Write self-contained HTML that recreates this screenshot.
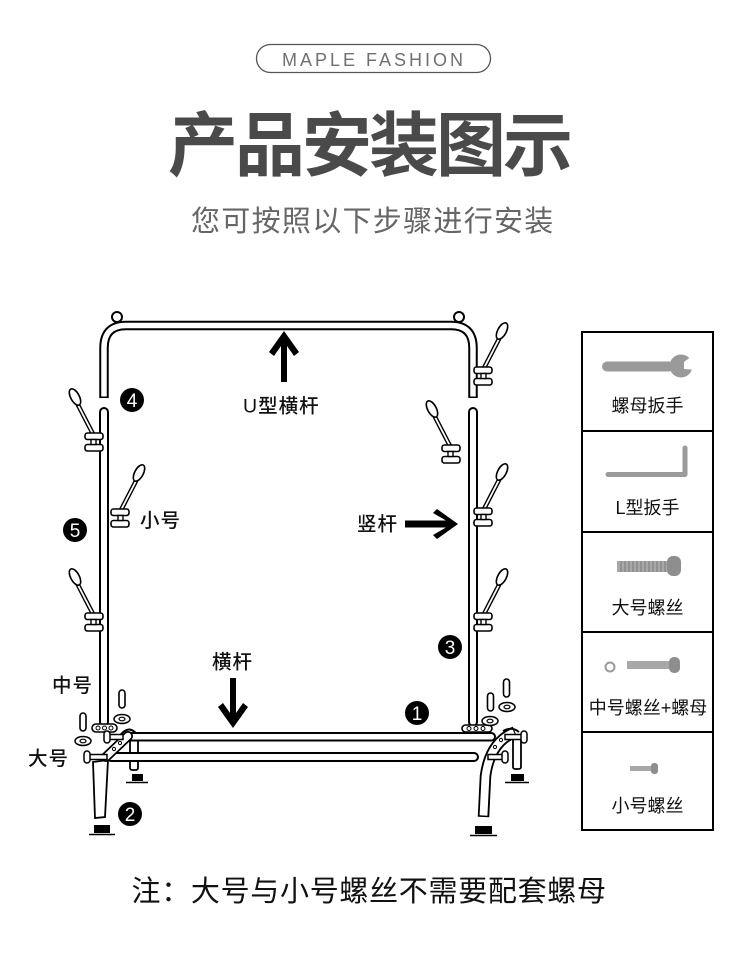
<!DOCTYPE html>
<html><head><meta charset="utf-8"><style>
html,body{margin:0;padding:0;background:#fff;}
body{width:750px;height:959px;overflow:hidden;}
svg{display:block;}
text{font-family:"Liberation Sans","Noto Sans CJK SC",sans-serif;}
</style></head><body>
<svg width="750" height="959" viewBox="0 0 750 959" xmlns="http://www.w3.org/2000/svg">
<rect width="750" height="959" fill="#fff"/>
<defs>
<g id="hk" fill="#fff" stroke="#000">
 <line x1="-1" y1="-8" x2="-16" y2="-37" stroke-width="4.6" stroke-linecap="round"/>
 <line x1="-1" y1="-8" x2="-16" y2="-37" stroke="#fff" stroke-width="1.8"/>
 <ellipse cx="-19" cy="-45" rx="4.3" ry="9" transform="rotate(-28 -19 -45)" stroke-width="1.6"/>
 <rect x="-9" y="-9" width="18" height="6.5" rx="2.5" stroke-width="1.6"/>
 <rect x="-9" y="2.5" width="18" height="6.5" rx="2.5" stroke-width="1.6"/>
 <rect x="-3" y="-2.5" width="5" height="5" stroke-width="1.4"/>
</g>
<g id="pin" fill="#fff" stroke="#000">
 <rect x="-3" y="0" width="6" height="18" rx="3" stroke-width="1.6"/>
</g>
<g id="nut" fill="#fff" stroke="#000">
 <ellipse cx="0" cy="0" rx="8" ry="4.5" stroke-width="1.5"/>
 <ellipse cx="0" cy="0" rx="3" ry="1.8" stroke-width="1.2"/>
</g>
</defs>

<!-- header -->
<rect x="256.5" y="44.5" width="234" height="28" rx="14" fill="none" stroke="#555" stroke-width="1.3"/>
<text x="282" y="66" font-size="18" letter-spacing="3" fill="#707070">MAPLE FASHION</text>
<text x="168 235 302 369 436 503" y="170" font-size="70" font-weight="bold" fill="#4a4a4a">产品安装图示</text>
<text x="191" y="231" font-size="29" letter-spacing="1.3" fill="#666">您可按照以下步骤进行安装</text>

<!-- knobs -->
<circle cx="117" cy="317" r="5" fill="#fff" stroke="#000" stroke-width="2"/>
<circle cx="459" cy="317" r="5" fill="#fff" stroke="#000" stroke-width="2"/>
<!-- U bar -->
<path d="M104 398 L104 348 Q104 325.5 126 325.5 L451 325.5 Q473 325.5 473 348 L473 398" fill="none" stroke="#000" stroke-width="9.5"/>
<path d="M104 396.5 L104 348 Q104 325.5 126 325.5 L451 325.5 Q473 325.5 473 348 L473 396.5" fill="none" stroke="#fff" stroke-width="5.5"/>
<!-- lower verticals -->
<rect x="100" y="408" width="8" height="318" rx="4" fill="#fff" stroke="#000" stroke-width="2"/>
<rect x="469" y="408" width="8" height="318" rx="4" fill="#fff" stroke="#000" stroke-width="2"/>

<!-- hooks -->
<use href="#hk" transform="translate(94,442)"/>
<use href="#hk" transform="translate(94,622)"/>
<use href="#hk" transform="translate(120,518) scale(-1,1)"/>
<use href="#hk" transform="translate(451,454)"/>
<use href="#hk" transform="translate(483,376) scale(-1,1)"/>
<use href="#hk" transform="translate(483,517) scale(-1,1)"/>
<use href="#hk" transform="translate(483,622) scale(-1,1)"/>

<!-- plates -->
<rect x="92" y="724" width="25" height="8" rx="4" fill="#fff" stroke="#000" stroke-width="1.6"/>
<circle cx="98" cy="728" r="2" fill="none" stroke="#000" stroke-width="1"/>
<circle cx="104.5" cy="728" r="2" fill="none" stroke="#000" stroke-width="1"/>
<circle cx="111" cy="728" r="2" fill="none" stroke="#000" stroke-width="1"/>
<rect x="462" y="725" width="30" height="7" rx="3.5" fill="#fff" stroke="#000" stroke-width="1.6"/>
<circle cx="469" cy="728.5" r="2" fill="none" stroke="#000" stroke-width="1"/>
<circle cx="476" cy="728.5" r="2" fill="none" stroke="#000" stroke-width="1"/>
<circle cx="483" cy="728.5" r="2" fill="none" stroke="#000" stroke-width="1"/>

<!-- loose bolts -->
<use href="#pin" transform="translate(83,713)"/>
<use href="#nut" transform="translate(83,741)"/>
<use href="#pin" transform="translate(122,690)"/>
<use href="#nut" transform="translate(122,719)"/>
<use href="#pin" transform="translate(490.5,693)"/>
<use href="#nut" transform="translate(490,721)"/>
<use href="#pin" transform="translate(506.5,679)"/>
<use href="#nut" transform="translate(507,707)"/>

<!-- base left -->
<rect x="130" y="738" width="8" height="32" rx="2" fill="#fff" stroke="#000" stroke-width="1.8"/>
<path d="M119 737 Q129 722 139 737" fill="none" stroke="#000" stroke-width="2"/>
<rect x="132" y="774" width="11" height="7" fill="#000"/>
<line x1="126" y1="782.5" x2="148" y2="782.5" stroke="#000" stroke-width="1.6"/>

<!-- base right rear -->
<rect x="513" y="738" width="8" height="31" rx="2" fill="#fff" stroke="#000" stroke-width="1.8"/>
<rect x="511" y="774" width="13" height="7" fill="#000"/>
<line x1="505" y1="782.5" x2="529" y2="782.5" stroke="#000" stroke-width="1.6"/>

<!-- bars -->
<rect x="125" y="733" width="370" height="7.5" rx="3.75" fill="#fff" stroke="#000" stroke-width="2"/>
<rect x="107" y="753" width="371" height="8" rx="4" fill="#fff" stroke="#000" stroke-width="2"/>

<!-- left front leg + bracket -->
<path d="M93 762 L95 818 L105 817 L108 760 Z" fill="#fff" stroke="#000" stroke-width="1.8"/>
<line x1="106" y1="757" x2="128" y2="736" stroke="#000" stroke-width="10" stroke-linecap="round"/>
<line x1="106" y1="757" x2="128" y2="736" stroke="#fff" stroke-width="6.5" stroke-linecap="round"/>
<circle cx="114" cy="749" r="1.6" fill="none" stroke="#000" stroke-width="1"/>
<circle cx="120" cy="743" r="1.6" fill="none" stroke="#000" stroke-width="1"/>
<rect x="108" y="734.5" width="15" height="5" fill="#fff" stroke="#000" stroke-width="1.5"/>
<rect x="104" y="731" width="6" height="12" rx="3" fill="#fff" stroke="#000" stroke-width="1.5"/>
<rect x="88" y="754.5" width="19" height="5" fill="#fff" stroke="#000" stroke-width="1.5"/>
<rect x="84" y="751" width="6" height="12" rx="3" fill="#fff" stroke="#000" stroke-width="1.5"/>
<rect x="94" y="825" width="16" height="8" fill="#000"/>
<line x1="89" y1="834.5" x2="115" y2="834.5" stroke="#000" stroke-width="1.6"/>

<!-- right front leg + bracket -->
<path d="M515 732 Q490 742 485.5 776 L483.5 817" fill="none" stroke="#000" stroke-width="11.5"/>
<path d="M514 732.5 Q490 742.5 485.5 776 L483.5 815.5" fill="none" stroke="#fff" stroke-width="7.8"/>
<path d="M503 731 Q512 726 519 732" fill="none" stroke="#000" stroke-width="2"/>
<circle cx="495" cy="747" r="1.6" fill="none" stroke="#000" stroke-width="1"/>
<circle cx="501" cy="740" r="1.6" fill="none" stroke="#000" stroke-width="1"/>
<rect x="505" y="734.5" width="17" height="5" fill="#fff" stroke="#000" stroke-width="1.5"/>
<rect x="521" y="731" width="6" height="12" rx="3" fill="#fff" stroke="#000" stroke-width="1.5"/>
<rect x="488" y="754.5" width="15" height="5" fill="#fff" stroke="#000" stroke-width="1.5"/>
<rect x="502" y="751" width="6" height="12" rx="3" fill="#fff" stroke="#000" stroke-width="1.5"/>
<rect x="475" y="826" width="17" height="8" fill="#000"/>
<line x1="470" y1="835.5" x2="497" y2="835.5" stroke="#000" stroke-width="1.6"/>

<!-- arrows -->
<polygon points="284,331 299,352 294,356 287,346 287,382 281,382 281,346 274,356 269,352" fill="#000"/>
<polygon points="233,728 248,707 243,703 236,713 236,678 230,678 230,713 223,703 218,707" fill="#000"/>
<polygon points="458,524 437,509 433,513 446,520.5 405,520.5 405,527.5 446,527.5 433,535 437,539" fill="#000"/>

<!-- diagram labels -->
<g font-size="19.5" font-weight="500" fill="#111">
<text x="243" y="412.5" letter-spacing="1">U型横杆</text>
<text x="357" y="530.5" letter-spacing="1">竖杆</text>
<text x="212" y="668.5" letter-spacing="1">横杆</text>
<text x="140" y="527" letter-spacing="1">小号</text>
<text x="52" y="692" letter-spacing="1">中号</text>
<text x="28" y="765" letter-spacing="1">大号</text>
</g>

<!-- circled numbers -->
<g fill="#000">
<circle cx="132" cy="400" r="12"/>
<circle cx="75" cy="530" r="12"/>
<circle cx="450" cy="647" r="12"/>
<circle cx="417" cy="713" r="12"/>
<circle cx="130" cy="814" r="12"/>
</g>
<g fill="#fff" font-size="19" text-anchor="middle">
<text x="132" y="407">4</text>
<text x="75" y="537">5</text>
<text x="450" y="654">3</text>
<text x="417" y="720">1</text>
<text x="130" y="821">2</text>
</g>

<!-- parts box -->
<rect x="582" y="332" width="131" height="498" fill="none" stroke="#000" stroke-width="2"/>
<line x1="582" y1="431" x2="713" y2="431" stroke="#000" stroke-width="2"/>
<line x1="582" y1="532" x2="713" y2="532" stroke="#000" stroke-width="2"/>
<line x1="582" y1="632" x2="713" y2="632" stroke="#000" stroke-width="2"/>
<line x1="582" y1="732" x2="713" y2="732" stroke="#000" stroke-width="2"/>

<!-- wrench -->
<rect x="602" y="361.5" width="72" height="10" rx="5" fill="#9a9a9a"/>
<circle cx="681" cy="366" r="11.5" fill="#9a9a9a"/>
<polygon points="684,362 696,353 698,370 684,369" fill="#fff"/>
<!-- L wrench -->
<path d="M608 474.5 L685 474.5 L685 448" fill="none" stroke="#9a9a9a" stroke-width="5" stroke-linejoin="round" stroke-linecap="round"/>
<!-- big screw -->
<rect x="617" y="561" width="52" height="11" fill="#a8a8a8"/>
<g stroke="#7a7a7a" stroke-width="1">
<line x1="621" y1="561" x2="621" y2="572"/><line x1="625" y1="561" x2="625" y2="572"/><line x1="629" y1="561" x2="629" y2="572"/><line x1="633" y1="561" x2="633" y2="572"/><line x1="637" y1="561" x2="637" y2="572"/><line x1="641" y1="561" x2="641" y2="572"/><line x1="645" y1="561" x2="645" y2="572"/><line x1="649" y1="561" x2="649" y2="572"/><line x1="653" y1="561" x2="653" y2="572"/><line x1="657" y1="561" x2="657" y2="572"/><line x1="661" y1="561" x2="661" y2="572"/><line x1="665" y1="561" x2="665" y2="572"/>
</g>
<rect x="667" y="556" width="14" height="20" rx="6" fill="#8e8e8e"/>
<!-- medium screw + nut -->
<circle cx="610" cy="667" r="4.5" fill="none" stroke="#9a9a9a" stroke-width="2"/>
<rect x="627" y="661" width="44" height="8" fill="#a8a8a8"/>
<rect x="669" y="657" width="11" height="16" rx="5" fill="#8e8e8e"/>
<!-- small screw -->
<rect x="630" y="766" width="22" height="5" fill="#a8a8a8"/>
<rect x="651" y="763" width="7" height="11" rx="3" fill="#8e8e8e"/>

<g font-size="18" fill="#111" text-anchor="middle">
<text x="647.5" y="412">螺母扳手</text>
<text x="647.5" y="514">L型扳手</text>
<text x="647.5" y="614">大号螺丝</text>
<text x="648" y="714">中号螺丝+螺母</text>
<text x="647.5" y="812">小号螺丝</text>
</g>

<!-- note -->
<text x="131.5" y="901" font-size="29" letter-spacing="0.7" fill="#111">注：大号与小号螺丝不需要配套螺母</text>
</svg>
</body></html>
